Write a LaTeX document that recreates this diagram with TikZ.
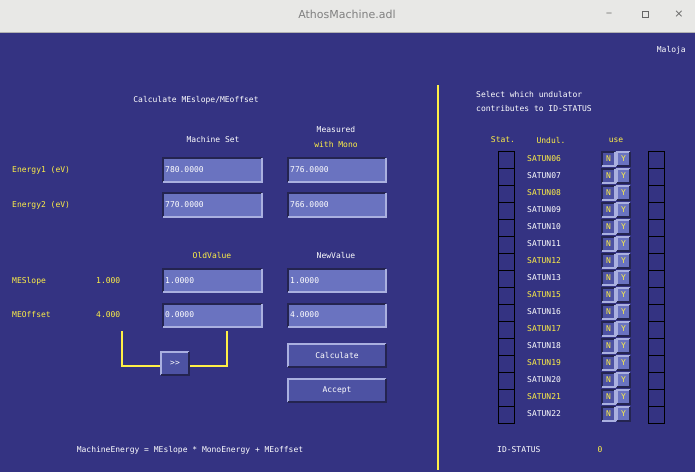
\documentclass[tikz,border=0pt]{standalone}
\usepackage{fontspec}
\setmonofont{DejaVu Sans Mono}
\setsansfont{DejaVu Sans}
\definecolor{bg}{RGB}{52,51,130}
\definecolor{fld}{RGB}{106,115,192}
\definecolor{btn}{RGB}{77,82,163}
\definecolor{lite}{RGB}{170,176,224}
\definecolor{dark}{RGB}{36,36,80}
\definecolor{yel}{RGB}{255,240,70}
\definecolor{bar}{RGB}{232,232,230}
\tikzset{x=1pt,y=-1pt,
 txt/.style={font=\ttfamily\fontsize{8}{9}\selectfont,inner sep=0pt},
 wt/.style={txt,text=white}, yt/.style={txt,text=yel},
}
\newcommand{\bevel}[5]{% x1 y1 x2 y2 fill
 \fill[#5] (#1,#2) rectangle (#3,#4);
 \draw[lite,line width=1.5] (#1,#4)--(#1,#2)--(#3,#2);
 \draw[dark,line width=1.5] (#1,#4)--(#3,#4)--(#3,#2);}
\newcommand{\sunk}[5]{%
 \fill[#5] (#1,#2) rectangle (#3,#4);
 \draw[dark,line width=1.5] (#1,#4)--(#1,#2)--(#3,#2);
 \draw[lite,line width=1.5] (#1,#4)--(#3,#4)--(#3,#2);}
\begin{document}
\begin{tikzpicture}
\useasboundingbox (0,0) rectangle (695,472);
\fill[bg] (0,0) rectangle (695,472);
\fill[bar] (0,0) rectangle (695,32);
\draw[gray!60] (0,32)--(695,32);
\node[font=\sffamily\fontsize{11}{12}\selectfont,text=gray] (title) at (347,14) {AthosMachine.adl};
\node[font=\sffamily\fontsize{10}{12}\selectfont,text=gray!80!black] (mn) at (609,13) {\_};
\draw[gray!80!black,line width=1] (642,11) rectangle (648,17);
\node[font=\sffamily\fontsize{11}{12}\selectfont,text=gray!80!black] (cl) at (679,14) {×};

\node[wt] (calc) at (196,100) {Calculate MEslope/MEoffset};
\node[wt] (ms) at (213,140) {Machine Set};
\node[wt] (meas) at (336,130) {Measured};
\node[yt] (wm) at (336,145) {with Mono};
\node[yt,anchor=west] (e1) at (12,170) {Energy1 (eV)};
\node[yt,anchor=west] (e2) at (12,205) {Energy2 (eV)};
\sunk{163}{158}{262}{182}{fld} \sunk{288}{158}{386}{182}{fld}
\sunk{163}{193}{262}{217}{fld} \sunk{288}{193}{386}{217}{fld}
\node[wt,anchor=west] (f1) at (165,170) {780.0000};
\node[wt,anchor=west] (f2) at (290,170) {776.0000};
\node[wt,anchor=west] (f3) at (165,205) {770.0000};
\node[wt,anchor=west] (f4) at (290,205) {766.0000};
\node[yt] (ov) at (212,255) {OldValue};
\node[wt] (nv) at (336,255) {NewValue};
\node[yt,anchor=west] (msl) at (12,281) {MESlope};
\node[yt,anchor=west] (meo) at (12,315) {MEOffset};
\node[yt,anchor=west] (v1) at (96,281) {1.000};
\node[yt,anchor=west] (v2) at (96,315) {4.000};
\sunk{163}{269}{262}{292}{fld} \sunk{288}{269}{386}{292}{fld}
\sunk{163}{304}{262}{327}{fld} \sunk{288}{304}{386}{327}{fld}
\node[wt,anchor=west] (f5) at (165,281) {1.0000};
\node[wt,anchor=west] (f6) at (290,281) {1.0000};
\node[wt,anchor=west] (f7) at (165,315) {0.0000};
\node[wt,anchor=west] (f8) at (290,315) {4.0000};
\draw[yel,line width=2] (122,331)--(122,366)--(160,366);
\draw[yel,line width=2] (189,366)--(227,366)--(227,331);
\bevel{161}{352}{189}{375}{btn}
\node[wt] (arr) at (175,363) {>>};
\bevel{288}{344}{386}{367}{btn}
\node[wt] (cb) at (337,355) {Calculate};
\bevel{288}{379}{386}{402}{btn}
\node[wt] (ab) at (337,390) {Accept};
\node[wt] (eq) at (190,450) {MachineEnergy = MEslope * MonoEnergy + MEoffset};

\draw[yel,line width=2] (438,85)--(438,470);
\node[wt,anchor=east] (mal) at (686,50) {Maloja};
\node[wt,anchor=west] (s1) at (476,94) {Select which undulator};
\node[wt,anchor=west] (s2) at (476,109) {contributes to ID-STATUS};
\node[yt] (st) at (503,140) {Stat.};
\node[yt] (un) at (551,140) {Undul.};
\node[yt] (use) at (616,140) {use};
\foreach \n/\c [count=\i from 0] in {06/yel,07/white,08/yel,09/white,10/white,11/white,12/yel,13/white,15/yel,16/white,17/yel,18/white,19/yel,20/white,21/yel,22/white}{
  \pgfmathsetmacro{\yy}{151+17*\i}
  \pgfmathsetmacro{\yb}{\yy+17}
  \pgfmathsetmacro{\yc}{\yy+8}
  \draw[black,line width=1] (498,\yy) rectangle (514,\yb);
  \draw[black,line width=1] (648,\yy) rectangle (664,\yb);
  \node[txt,text=\c,anchor=west] (u\i) at (527,\yc) {SATUN\n};
  \pgfmathsetmacro{\ya}{\yy+1}
  \pgfmathsetmacro{\yd}{\yy+15}
  \sunk{602}{\ya}{615}{\yd}{btn}
  \bevel{617}{\ya}{630}{\yd}{fld}
  \node[yt] (n\i) at (608.5,\yc) {N};
  \node[yt] (y\i) at (623.5,\yc) {Y};
}
\node[wt,anchor=west] (ids) at (497,450) {ID-STATUS};
\node[yt] (zero) at (600,450) {0};
\end{tikzpicture}
\end{document}
